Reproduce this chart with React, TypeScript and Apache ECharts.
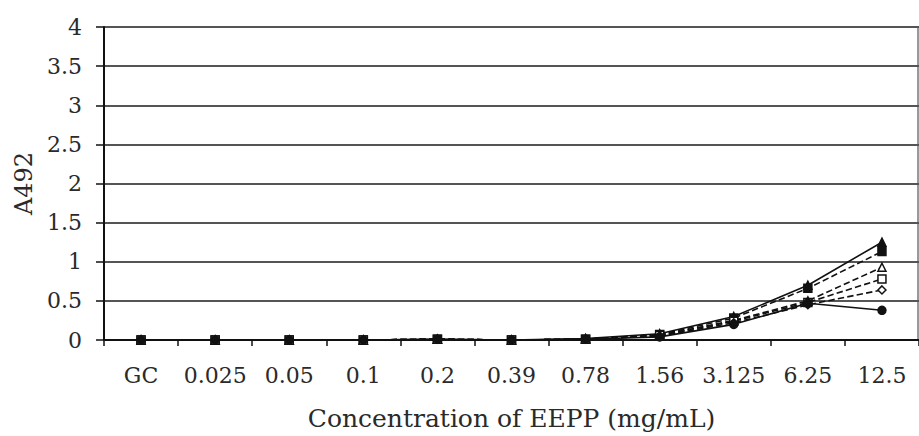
import React, { useEffect, useRef } from "react";
import * as echarts from "echarts";

const categories = ["GC", "0.025", "0.05", "0.1", "0.2", "0.39", "0.78", "1.56", "3.125", "6.25", "12.5"];
const yTicks = [0, 0.5, 1, 1.5, 2, 2.5, 3, 3.5, 4];

const seriesA = [0, 0, 0, 0, 0.01, 0, 0.02, 0.08, 0.3, 0.7, 1.25];
const seriesB = [0, 0, 0, 0, 0.01, 0, 0.01, 0.07, 0.28, 0.66, 1.13];
const seriesC = [0, 0, 0, 0, 0.01, 0, 0.01, 0.06, 0.25, 0.5, 0.93];
const seriesD = [0, 0, 0, 0, 0.01, 0, 0.01, 0.06, 0.24, 0.48, 0.78];
const seriesE = [0, 0, 0, 0, 0.01, 0, 0.01, 0.05, 0.22, 0.45, 0.64];
const seriesF = [0, 0, 0, 0, 0.01, 0, 0.01, 0.04, 0.2, 0.47, 0.38];

const seriesDefs = [
  { name: "A", data: seriesA, symbol: "triangle", type: "solid", empty: false },
  { name: "B", data: seriesB, symbol: "rect", type: "dashed", empty: false },
  { name: "C", data: seriesC, symbol: "triangle", type: "dashed", empty: true },
  { name: "D", data: seriesD, symbol: "rect", type: "dashed", empty: true },
  { name: "E", data: seriesE, symbol: "diamond", type: "dashed", empty: true },
  { name: "F", data: seriesF, symbol: "circle", type: "solid", empty: false },
];

const FONT = "'DejaVu Serif', 'Liberation Serif', serif";

export default function App() {
  const ref = useRef<HTMLDivElement>(null);
  useEffect(() => {
    document.body.style.margin = "0";
    const chart = echarts.init(ref.current!, null, { renderer: "svg" });
    chart.setOption({
      animation: false,
      backgroundColor: "#ffffff",
      textStyle: { fontFamily: FONT },
      grid: { left: 104, width: 815, top: 27, bottom: 96 },
      xAxis: {
        type: "category",
        data: categories,
        boundaryGap: true,
        name: "Concentration of EEPP (mg/mL)",
        nameLocation: "middle",
        nameGap: 66,
        nameTextStyle: { fontFamily: FONT, fontSize: 25, color: "#2a2a2a" },
        axisLine: { lineStyle: { color: "#111", width: 2 } },
        axisTick: { show: true, inside: false, length: 6, lineStyle: { color: "#111", width: 1.5 } },
        axisLabel: { fontFamily: FONT, fontSize: 22, color: "#2a2a2a", margin: 24, interval: 0 },
        splitLine: { show: false },
      },
      yAxis: {
        type: "value",
        min: yTicks[0],
        max: yTicks[yTicks.length - 1],
        interval: 0.5,
        name: "A492",
        nameLocation: "middle",
        nameRotate: 90,
        nameGap: 68,
        nameTextStyle: { fontFamily: FONT, fontSize: 24, color: "#2a2a2a" },
        axisLine: { show: true, lineStyle: { color: "#111", width: 2 } },
        axisTick: { show: true, inside: false, length: 8, lineStyle: { color: "#111", width: 1.5 } },
        axisLabel: { fontFamily: FONT, fontSize: 22, color: "#2a2a2a", margin: 22 },
        splitLine: { show: true, lineStyle: { color: "#555", width: 2 } },
      },
      graphic: [
        {
          type: "line",
          shape: { x1: 918, y1: 27, x2: 918, y2: 340 },
          style: { stroke: "#777", lineWidth: 1.5 },
        },
      ],
      series: seriesDefs.map((s) => ({
        name: s.name,
        type: "line",
        data: s.data,
        symbol: s.symbol,
        symbolSize: 8,
        showSymbol: true,
        lineStyle: { color: "#111", width: 1.6, type: s.type },
        itemStyle: {
          color: s.empty ? "#ffffff" : "#111",
          borderColor: "#111",
          borderWidth: 1.5,
        },
      })),
    });
    return () => chart.dispose();
  }, []);
  return <div ref={ref} style={{ width: 919, height: 436 }} />;
}
